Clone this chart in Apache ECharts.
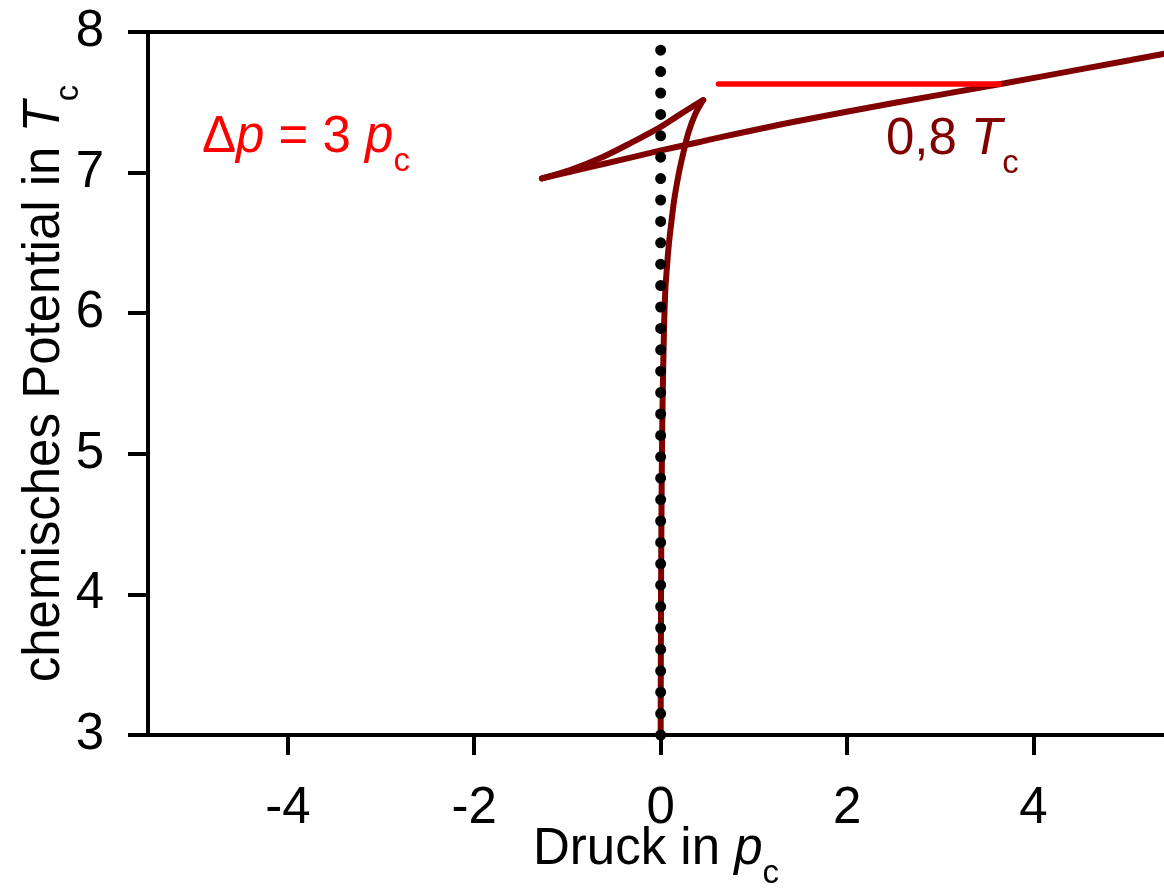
<!DOCTYPE html>
<html>
<head>
<meta charset="utf-8">
<script src="https://cdn.jsdelivr.net/npm/echarts@6/dist/echarts.min.js"></script>
<style>
html,body{margin:0;padding:0;background:#fff;}
#chart{width:1164px;height:888px;}
</style>
</head>
<body>
<div id="chart"></div>
<script>
// x tick labels (pressure in p_c)
const xTicks = [-4, -2, 0, 2, 4];
// steep branch from p=0 up to the upper cusp
const steepBranch = [[0,3],[0.004,4.0],[0.008,4.5],[0.014,5.0],[0.021,5.38],[0.035,5.86],[0.05,6.165],[0.065,6.307],[0.085,6.47],[0.105,6.592],[0.145,6.805],[0.195,6.995],[0.242,7.137],[0.296,7.28],[0.367,7.41],[0.456,7.516]];
// unstable branch between the two cusps
const unstableBranch = [[0.456,7.516],[0.30,7.452],[0.171,7.398],[-0.008,7.322],[-0.329,7.208],[-0.615,7.113],[-0.971,7.018],[-1.274,6.959]];
// flat branch from the left cusp to the right
const flatBranch = [[-1.274,6.959],[-0.971,7.006],[-0.615,7.061],[-0.008,7.156],[0.42,7.218],[0.635,7.251],[1.49,7.369],[2.5,7.495],[3.633,7.628],[4.5,7.734],[5.39,7.844],[5.6,7.87]];
// red Δp line
const tieLine = [[0.62,7.63],[3.633,7.63]];
// dotted zero-pressure line
const zeroLine = [[0,3],[0,7.885]];

const FF = '"Liberation Sans", Arial, Helvetica, sans-serif';
const FS = 51;
const SFS = 33;
const richAxis = {
  n: {fontSize: FS, fontFamily: FF, lineHeight: 100, color: '#000'},
  i: {fontSize: FS, fontFamily: FF, fontStyle: 'italic', lineHeight: 100, color: '#000'},
  s: {fontSize: SFS, fontFamily: FF, lineHeight: SFS, padding: [48,0,0,0], color: '#000'}
};
function richG(color){
  return {
    n: {fontSize: FS, fontFamily: FF, lineHeight: 100, fill: color},
    i: {fontSize: FS, fontFamily: FF, fontStyle: 'italic', lineHeight: 100, fill: color},
    s: {fontSize: SFS, fontFamily: FF, lineHeight: SFS, padding: [48,0,0,0], fill: color}
  };
}

const chart = echarts.init(document.getElementById('chart'), null, {renderer: 'canvas'});
const DR = '#800000';
const axisLine = {show: true, onZero: false, lineStyle: {color: '#000', width: 4}};
chart.setOption({
  animation: false,
  backgroundColor: '#fff',
  grid: {left: 148, right: 0, top: 32, bottom: 153, containLabel: false, outerBoundsMode: 'none'},
  xAxis: [{
    type: 'value', min: -5.5, max: 5.4, position: 'bottom',
    axisLine: axisLine,
    axisTick: {show: true, length: 20, customValues: xTicks, lineStyle: {color: '#000', width: 4}},
    axisLabel: {customValues: xTicks, fontSize: FS, fontFamily: FF, color: '#000', margin: 48},
    splitLine: {show: false},
    name: '{n|Druck in }{i|p}{s|c}', nameLocation: 'middle', nameGap: 65, nameMoveOverlap: false,
    nameTextStyle: {rich: richAxis, fontSize: FS, fontFamily: FF, color: '#000'}
  }, {
    type: 'value', min: -5.5, max: 5.4, position: 'top',
    axisLine: axisLine, axisTick: {show: false}, axisLabel: {show: false}, splitLine: {show: false}
  }],
  yAxis: {
    type: 'value', min: 3, max: 8, interval: 1,
    axisLine: axisLine,
    axisTick: {show: true, length: 20, lineStyle: {color: '#000', width: 4}},
    axisLabel: {fontSize: FS, fontFamily: FF, color: '#000', margin: 44},
    splitLine: {show: false},
    name: '{n|chemisches Potential in }{i|T}{s|c}', nameLocation: 'middle', nameGap: 53, nameMoveOverlap: false,
    nameTextStyle: {rich: richAxis, fontSize: FS, fontFamily: FF, color: '#000'}
  },
  series: [
    {type: 'line', data: steepBranch, smooth: 0.3, symbol: 'none', lineStyle: {color: DR, width: 6, cap: 'round', join: 'round'}, z: 3},
    {type: 'line', data: unstableBranch, smooth: 0.3, symbol: 'none', lineStyle: {color: DR, width: 6, cap: 'round', join: 'round'}, z: 3},
    {type: 'line', data: flatBranch, smooth: 0.3, symbol: 'none', lineStyle: {color: DR, width: 6, cap: 'round', join: 'round'}, z: 3},
    {type: 'line', data: tieLine, symbol: 'none', lineStyle: {color: '#ff0000', width: 5.5, cap: 'round'}, z: 4},
    {type: 'line', data: zeroLine, symbol: 'none', lineStyle: {color: '#000', width: 11, cap: 'round', type: [0, 21.4]}, z: 5}
  ],
  graphic: [
    {type: 'text', x: 202, y: 88, z: 10, style: {text: '{n|Δ}{i|p}{n| = 3 }{i|p}{s|c}', rich: richG('#ff0000'), fill: '#ff0000', verticalAlign: 'top'}},
    {type: 'text', x: 886, y: 90, z: 10, style: {text: '{n|0,8 }{i|T}{s|c}', rich: richG(DR), fill: DR, verticalAlign: 'top'}}
  ]
});
</script>
</body>
</html>
